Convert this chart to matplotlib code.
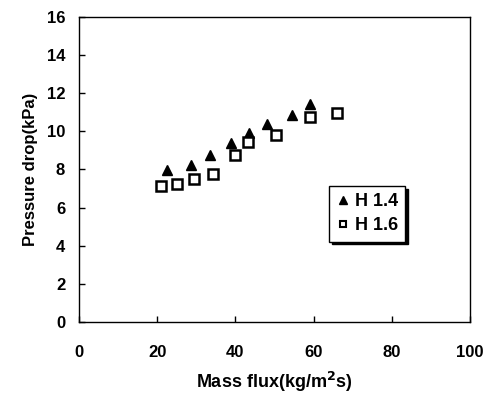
import matplotlib
matplotlib.use("Agg")
import matplotlib.pyplot as plt

# data
h14_flux = [22.4, 28.6, 33.5, 38.8, 43.5, 48.2, 54.5, 59.1]
h14_dp = [7.97, 8.24, 8.76, 9.37, 9.90, 10.40, 10.86, 11.44]
h16_flux = [21.0, 25.0, 29.5, 34.2, 39.9, 43.1, 50.4, 59.1, 65.9]
h16_dp = [7.15, 7.22, 7.49, 7.76, 8.76, 9.43, 9.81, 10.77, 10.95]

plt.rcParams['font.family'] = ['Liberation Sans', 'DejaVu Sans']
plt.rcParams['font.weight'] = 'bold'

fig = plt.figure(figsize=(4.91, 4.03), dpi=100)
ax = fig.add_axes([0.161, 0.201, 0.796, 0.757])

ax.plot(h14_flux, h14_dp, linestyle='none', marker='^', markersize=7,
        color='black', label='H 1.4')
ax.plot(h16_flux, h16_dp, linestyle='none', marker='s', markersize=6.5,
        markerfacecolor='white', markeredgecolor='black', markeredgewidth=1.8,
        label='H 1.6')

ax.set_xlim(0, 100)
ax.set_ylim(0, 16)
ax.set_xticks(range(0, 101, 20))
ax.set_yticks(range(0, 17, 2))
ax.tick_params(direction='in', length=4, width=1, labelsize=12)
ax.tick_params(axis='x', pad=16.5)
ax.tick_params(axis='y', pad=10)
for s in ax.spines.values():
    s.set_linewidth(1)

ax.set_xlabel('Mass flux(kg/m$^{\\bf 2}$s)', fontsize=13, fontweight='bold', labelpad=7)
ax.set_ylabel('Pressure drop(kPa)', fontsize=12, fontweight='bold', labelpad=6)

leg = ax.legend(loc='upper left', bbox_to_anchor=(0.639, 0.446), borderaxespad=0,
                fancybox=False, shadow={'color': 'black', 'alpha': 1},
                edgecolor='black', framealpha=1, fontsize=13, markerscale=0.8,
                handletextpad=0.25, handlelength=0.8, borderpad=0.4,
                labelspacing=0.4)
leg.get_frame().set_linewidth(1)
# the legend square is drawn smaller than the plotted ones
leg.legend_handles[1].set_markersize(4.2)
leg.legend_handles[1].set_markeredgewidth(1.5)

fig.savefig('out.png', dpi=100)
